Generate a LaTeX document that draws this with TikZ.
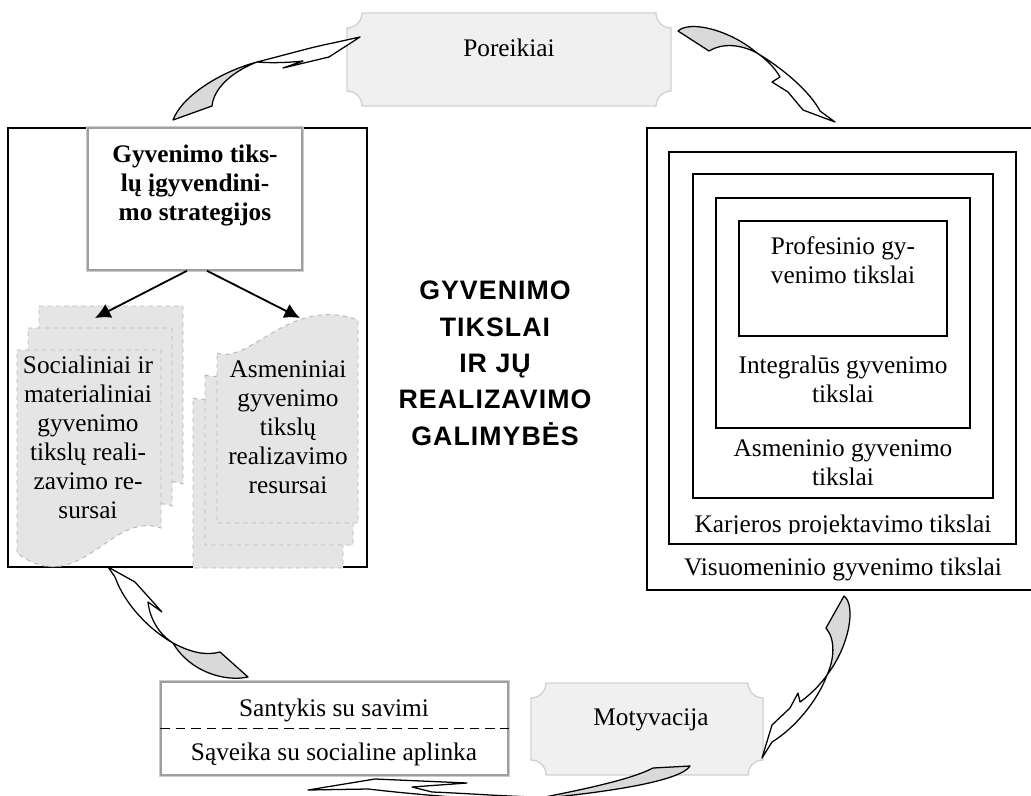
\documentclass[tikz,border=0pt]{standalone}
\usepackage{fontspec}
\setmainfont{Liberation Serif}
\newfontfamily\headfont[LetterSpace=4]{Liberation Sans}
\usetikzlibrary{arrows.meta,calc}
\tikzset{>=Latex}

% plaque with concave corners: x0 y0 x1 y1
\newcommand\plaque[4]{%
  \path[plaque] (#1+15,#2) -- (#3-15,#2)
    .. controls (#3-15,#2+8.3) and (#3-8.3,#2+15) .. (#3,#2+15) -- (#3,#4-15)
    .. controls (#3-8.3,#4-15) and (#3-15,#4-8.3) .. (#3-15,#4) -- (#1+15,#4)
    .. controls (#1+15,#4-8.3) and (#1+8.3,#4-15) .. (#1,#4-15) -- (#1,#2+15)
    .. controls (#1+8.3,#2+15) and (#1+15,#2+8.3) .. cycle;}

\begin{document}
\begin{tikzpicture}[x=0.025cm, y=-0.025cm,
    txt/.style={font=\fontsize{18}{20.6}\selectfont, align=center, inner sep=0pt},
    boldtxt/.style={txt, font=\fontsize{18}{20.3}\selectfont\bfseries},
    head/.style={font=\headfont\bfseries\fontsize{19}{25.8}\selectfont, align=center, inner sep=0pt},
    frame/.style={draw, line width=1.1pt},
    page/.style={draw=gray!55, dashed, fill=gray!20, line width=0.7pt},
    plaque/.style={draw=gray!35, fill=gray!12, line width=1pt},
    shadowbox/.style={draw=gray!75, line width=1.1pt, fill=white,
      preaction={draw=gray!40, line width=3pt}},
    conn/.style={-{Latex[length=11pt,width=11pt]}, line width=1.3pt},
    ribbon/.style={draw, line width=0.9pt, line join=round, fill=white},
    twist/.style={ribbon, fill=gray!30}]
  \useasboundingbox (0,0) rectangle (1031,795);

  %% left block
  \draw[frame, fill=white] (8,128) rectangle (367,567);
  \node[shadowbox, minimum width=5.35cm, minimum height=3.55cm] (strat) at (195,199) {};
  \node[boldtxt, anchor=base] (strattext) at (195,220) {Gyvenimo tiks-\\lų įgyvendini-\\mo strategijos};

  \foreach \dx/\dy in {22/-44, 11/-22, 0/0}
    \path[page, shift={(\dx,\dy)}] (17,350) -- (161,350) -- (161,528)
      .. controls (110,510) and (80,600) .. (17,553) -- cycle;
  \node[txt, anchor=base] (socres) at (88,518)
    {Socialiniai ir\\materialiniai\\gyvenimo\\tikslų reali-\\zavimo re-\\sursai};

  \path[page] (193,398) .. controls (228,410) and (268,340) .. (343,365) -- (343,568) -- (193,568) -- cycle;
  \path[page] (205,375) .. controls (240,387) and (280,317) .. (353,342) -- (353,545) -- (205,545) -- cycle;
  \path[page] (217,353) .. controls (250,365) and (290,295) .. (358,320) -- (358,523) -- (217,523) -- cycle;
  \node[txt, anchor=base] (asmres) at (288,493)
    {Asmeniniai\\gyvenimo\\tikslų\\realizavimo\\resursai};

  \coordinate (socin) at (95,318);
  \coordinate (asmin) at (300,318);
  \draw[conn] ([xshift=-0.2cm]strat.south) -- (socin);
  \draw[conn] ([xshift=0.3cm]strat.south) -- (asmin);

  %% title
  \node[head, anchor=base] (title) at (495,445) {GYVENIMO\\TIKSLAI\\IR JŲ\\REALIZAVIMO\\GALIMYBĖS};

  %% nested goals
  \draw[frame, fill=white] (647,128) rectangle (1033,590);
  \draw[frame] (669,152) rectangle (1016,544);
  \draw[frame] (693,174) rectangle (993,498);
  \draw[frame] (716,198) rectangle (970,428);
  \draw[frame] (739,221) rectangle (947,336);
  \node[txt, anchor=base] (prof) at (843,283) {Profesinio gy-\\venimo tikslai};
  \node[txt, anchor=base] (integ) at (843,402) {Integralūs gyvenimo\\tikslai};
  \node[txt, anchor=base] (asm) at (843,485) {Asmeninio gyvenimo\\tikslai};
  \begin{scope}
    \clip (669,152) rectangle (1016,533);
    \node[txt, anchor=base] (karj) at (843,532) {Karjeros projektavimo tikslai};
  \end{scope}
  \node[txt, anchor=base] (visu) at (843,575) {Visuomeninio gyvenimo tikslai};

  %% needs, motivation, relations
  \plaque{347}{13}{671}{106}
  \node[txt, anchor=base] (needs) at (509,57) {Poreikiai};
  \plaque{531}{683}{763}{775}
  \node[txt, anchor=base] (motiv) at (651,725) {Motyvacija};

  \node[shadowbox, minimum width=8.675cm, minimum height=2.325cm] (rel) at (334.5,728.5) {};
  \draw[line width=1.3pt, dash pattern=on 7pt off 4pt] (rel.west) -- (rel.east);
  \node[txt, anchor=base] (self) at (334,716) {Santykis su savimi};
  \node[txt, anchor=base] (social) at (334,760) {Sąveika su socialine aplinka};

  %% curved arrows
  % left block -> needs
  \path[twist] (173,120) .. controls (182,96) and (220,72) .. (257,62)
    .. controls (236,70) and (214,86) .. (212,106) -- cycle;
  \path[ribbon] (257,62) .. controls (285,55) and (312,47) .. (333,43) -- (360,37)
    -- (329,57) -- (283,68) -- (303,61) .. controls (285,63) and (268,63) .. (257,62) -- cycle;
  % needs -> goals
  \path[twist] (678,31) .. controls (690,20) and (730,30) .. (757,53)
    .. controls (740,44) and (722,43) .. (709,51) -- cycle;
  \path[ribbon] (757,53) .. controls (785,70) and (810,92) .. (820,111) -- (835,122)
    -- (803,110) -- (788,92) -- (772,82) -- (780,77) .. controls (775,68) and (766,59) .. (757,53) -- cycle;
  % goals -> motivation
  \path[twist] (844,596) .. controls (856,605) and (850,645) .. (827,675)
    .. controls (834,660) and (836,640) .. (826,628) -- cycle;
  \path[ribbon] (827,675) .. controls (818,700) and (795,728) .. (772,742) -- (762,758)
    -- (772,725) -- (790,708) -- (798,693) -- (800,702) .. controls (810,695) and (820,685) .. (827,675) -- cycle;
  % motivation -> relations
  \path[twist] (690,766) .. controls (680,782) and (600,793) .. (535,799)
    .. controls (580,790) and (630,780) .. (653,768) -- cycle;
  \path[ribbon] (535,797) .. controls (500,796) and (460,793) .. (432,792) -- (412,787)
    -- (467,783) -- (375,779) -- (308,790) -- (368,789) .. controls (420,795) and (480,800) .. (535,800) -- cycle;
  % relations -> left block
  \path[twist] (173,643) .. controls (190,652) and (205,656) .. (220,652) -- (248,677)
    .. controls (225,682) and (190,672) .. (173,643) -- cycle;
  \path[ribbon] (173,643) .. controls (150,630) and (125,605) .. (115,577) -- (108,567)
    -- (135,582) -- (162,612) -- (148,602) .. controls (150,620) and (160,635) .. (173,643) -- cycle;
\end{tikzpicture}
\end{document}
